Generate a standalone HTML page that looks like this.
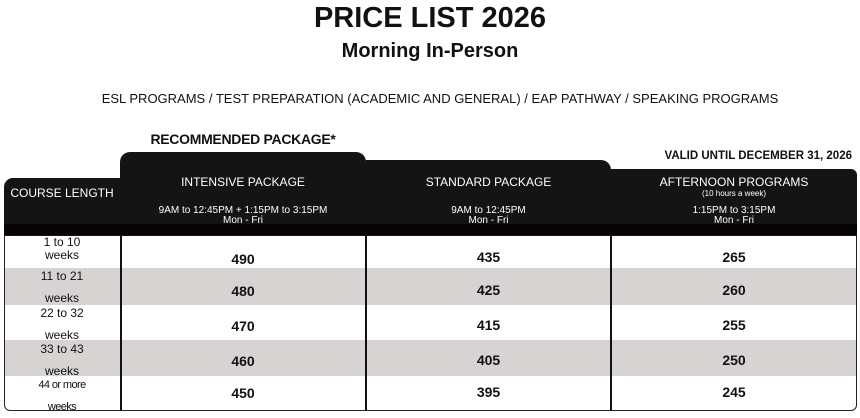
<!DOCTYPE html>
<html><head><meta charset="utf-8"><style>
body{margin:0;width:860px;height:413px;background:#fff;font-family:"Liberation Sans",sans-serif;position:relative;overflow:hidden;color:#111}
.a{position:absolute}
.c{text-align:center}
.hd{background:#141414;color:#fff}
</style></head><body>
<div class="a c" style="left:0;width:860px;top:2px;font-size:29px;font-weight:bold">PRICE LIST 2026</div>
<div class="a c" style="left:0;width:860px;top:40px;font-size:20px;font-weight:bold">Morning In-Person</div>
<div class="a c" style="left:0;width:880px;top:91px;font-size:13px">ESL PROGRAMS / TEST PREPARATION (ACADEMIC AND GENERAL) / EAP PATHWAY / SPEAKING PROGRAMS</div>
<div class="a c" style="left:120px;width:246px;top:131px;font-size:14px;font-weight:900;letter-spacing:-0.3px">RECOMMENDED PACKAGE*</div>
<div class="a" style="right:8px;top:150px;font-size:11.5px;font-weight:bold">VALID UNTIL DECEMBER 31, 2026</div>
<div class="a hd" style="left:4px;top:178px;width:118px;height:58px;border-radius:9px 0 0 0"></div>
<div class="a hd" style="left:120px;top:152px;width:246px;height:84px;border-radius:10px 10px 0 0"></div>
<div class="a hd" style="left:366px;top:160px;width:245px;height:76px;border-radius:0 10px 0 0"></div>
<div class="a hd" style="left:611px;top:169px;width:246px;height:67px;border-radius:0 6px 0 0"></div>
<div class="a" style="left:4px;top:224px;width:853px;height:11px;background:#080404"></div>
<div class="a c" style="left:4px;width:116px;top:186px;font-size:12px;color:#fff">COURSE LENGTH</div>
<div class="a c" style="left:120px;width:246px;top:175px;font-size:12px;color:#fff">INTENSIVE PACKAGE</div>
<div class="a c" style="left:120px;width:246px;top:206px;font-size:10px;line-height:10px;color:#fff">9AM to 12:45PM + 1:15PM to 3:15PM<br>Mon - Fri</div>
<div class="a c" style="left:366px;width:245px;top:175px;font-size:12px;color:#fff">STANDARD PACKAGE</div>
<div class="a c" style="left:366px;width:245px;top:206px;font-size:10px;line-height:10px;color:#fff">9AM to 12:45PM<br>Mon - Fri</div>
<div class="a c" style="left:611px;width:246px;top:175px;font-size:12px;color:#fff">AFTERNOON PROGRAMS</div>
<div class="a c" style="left:611px;width:246px;top:189px;font-size:8px;color:#fff">(10 hours a week)</div>
<div class="a c" style="left:611px;width:246px;top:206px;font-size:10px;line-height:10px;color:#fff">1:15PM to 3:15PM<br>Mon - Fri</div>
<div class="a" style="left:4px;top:235px;width:851px;height:175px;border:1px solid #222;border-top:none;border-radius:0 0 6px 6px;overflow:hidden">
 <div class="a" style="left:0;top:33px;width:100%;height:37px;background:#d7d3d3"></div>
 <div class="a" style="left:0;top:105px;width:100%;height:36px;background:#d7d3d3"></div>
</div>
<div class="a" style="left:120px;top:235px;width:2px;height:176px;background:#111"></div>
<div class="a" style="left:365px;top:235px;width:2px;height:176px;background:#111"></div>
<div class="a" style="left:610px;top:235px;width:2px;height:176px;background:#111"></div>
<div style="font-size:12px;line-height:13px">
<div class="a c" style="left:4px;width:116px;top:236px">1 to 10<br>weeks</div>
<div class="a c" style="left:4px;width:116px;top:265px;line-height:22px">11 to 21<br>weeks</div>
<div class="a c" style="left:4px;width:116px;top:302px;line-height:22px">22 to 32<br>weeks</div>
<div class="a c" style="left:4px;width:116px;top:338px;line-height:22px">33 to 43<br>weeks</div>
<div class="a c" style="left:4px;width:116px;top:374px;line-height:22px;font-size:11px;letter-spacing:-0.6px">44 or more<br>weeks</div>
</div>
<div style="font-size:14px;font-weight:bold">
<div class="a c" style="left:120px;width:246px;top:251px">490</div>
<div class="a c" style="left:366px;width:245px;top:249px">435</div>
<div class="a c" style="left:611px;width:246px;top:249px">265</div>
<div class="a c" style="left:120px;width:246px;top:283px">480</div>
<div class="a c" style="left:366px;width:245px;top:282px">425</div>
<div class="a c" style="left:611px;width:246px;top:282px">260</div>
<div class="a c" style="left:120px;width:246px;top:318px">470</div>
<div class="a c" style="left:366px;width:245px;top:317px">415</div>
<div class="a c" style="left:611px;width:246px;top:317px">255</div>
<div class="a c" style="left:120px;width:246px;top:353px">460</div>
<div class="a c" style="left:366px;width:245px;top:352px">405</div>
<div class="a c" style="left:611px;width:246px;top:352px">250</div>
<div class="a c" style="left:120px;width:246px;top:385px">450</div>
<div class="a c" style="left:366px;width:245px;top:384px">395</div>
<div class="a c" style="left:611px;width:246px;top:384px">245</div>
</div>
</body></html>
